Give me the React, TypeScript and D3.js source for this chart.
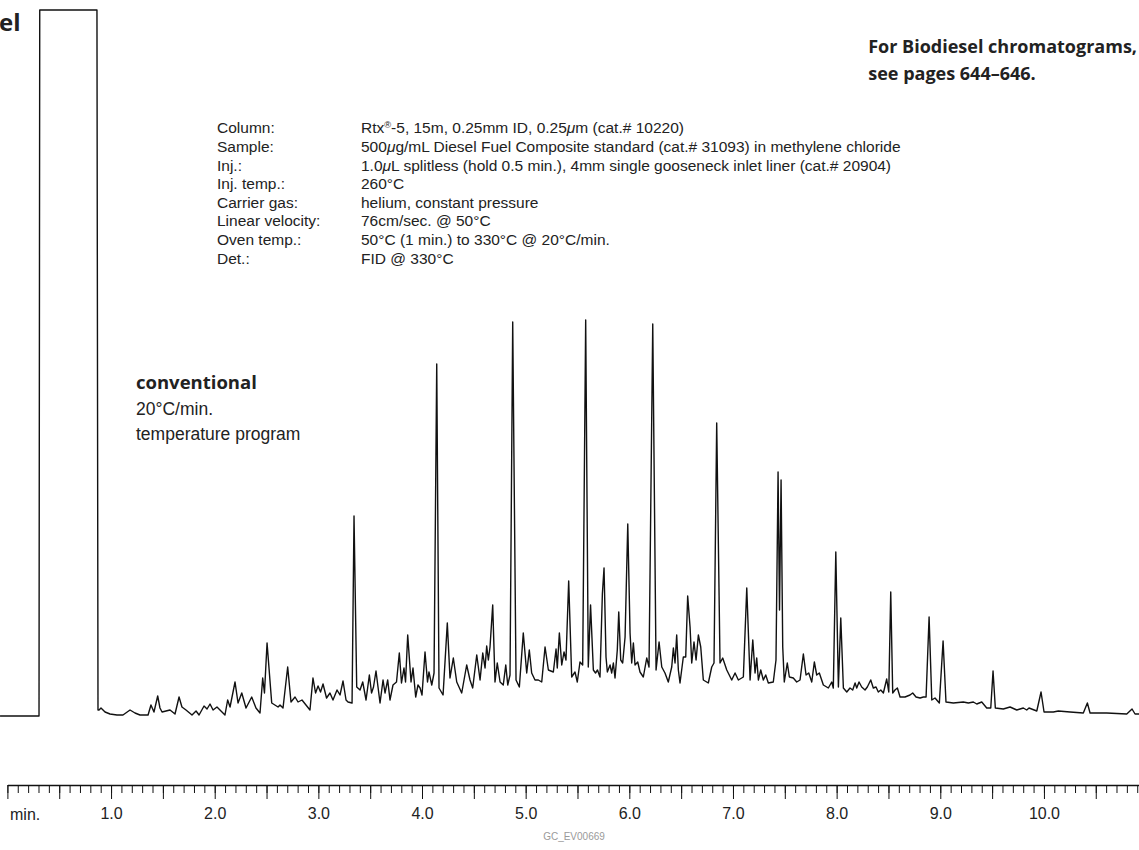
import React, { useEffect, useRef } from 'react';
import * as d3 from 'd3';

// retention time (min), detector response (arbitrary units, solvent peak is off scale)
const trace: [number, number][] = [
  [-0.071, 0], [0.305, 0], [0.312, 1200], [0.864, 1200], [0.874, 6], [0.884, 6],
  [0.903, 8], [0.942, 4], [0.99, 2], [1.057, 1], [1.115, 1], [1.183, 6], [1.231, 3],
  [1.279, 1], [1.357, 1], [1.385, 11], [1.414, 4], [1.45, 20], [1.472, 8], [1.492, 4],
  [1.53, 5], [1.569, 6], [1.617, 2], [1.656, 19], [1.684, 9], [1.723, 6], [1.781, 1],
  [1.82, 5], [1.849, 1], [1.897, 10], [1.926, 7], [1.955, 12], [1.984, 6], [2.022, 9],
  [2.099, 1], [2.125, 16], [2.148, 9], [2.196, 34], [2.225, 13], [2.261, 23], [2.302, 8],
  [2.357, 19], [2.398, 8], [2.437, 3], [2.463, 38], [2.48, 23], [2.505, 73], [2.55, 13],
  [2.611, 9], [2.63, 11], [2.659, 8], [2.704, 49], [2.736, 14], [2.775, 19], [2.804, 14],
  [2.842, 16], [2.919, 6], [2.948, 38], [2.973, 23], [2.997, 30], [3.021, 24], [3.045, 32],
  [3.079, 18], [3.112, 23], [3.141, 16], [3.18, 26], [3.209, 21], [3.238, 35], [3.267, 16],
  [3.286, 14], [3.325, 13], [3.344, 200], [3.37, 29], [3.402, 26], [3.428, 34], [3.46, 16],
  [3.492, 41], [3.513, 23], [3.532, 29], [3.556, 45], [3.595, 13], [3.624, 36], [3.643, 23],
  [3.669, 36], [3.691, 16], [3.72, 31], [3.754, 34], [3.781, 63], [3.802, 33], [3.826, 48],
  [3.841, 34], [3.862, 81], [3.894, 34], [3.913, 48], [3.939, 19], [3.961, 31], [3.981, 28],
  [4.0, 21], [4.029, 64], [4.053, 34], [4.067, 44], [4.094, 31], [4.116, 43], [4.142, 352],
  [4.164, 28], [4.203, 21], [4.244, 93], [4.27, 38], [4.302, 58], [4.335, 34], [4.383, 23],
  [4.431, 51], [4.463, 36], [4.489, 28], [4.528, 61], [4.56, 36], [4.586, 63], [4.608, 48],
  [4.624, 70], [4.64, 56], [4.656, 69], [4.682, 111], [4.704, 34], [4.726, 53], [4.753, 34],
  [4.784, 31], [4.808, 51], [4.827, 31], [4.849, 41], [4.875, 394], [4.907, 36], [4.939, 29],
  [4.977, 83], [5.01, 43], [5.035, 66], [5.058, 43], [5.09, 36], [5.122, 36], [5.155, 34],
  [5.187, 69], [5.219, 46], [5.267, 44], [5.293, 67], [5.305, 48], [5.325, 83], [5.348, 51],
  [5.37, 64], [5.389, 56], [5.415, 135], [5.444, 39], [5.476, 44], [5.498, 34], [5.524, 54],
  [5.55, 51], [5.579, 396], [5.604, 49], [5.626, 111], [5.653, 46], [5.674, 43], [5.693, 46],
  [5.717, 39], [5.74, 122], [5.756, 148], [5.775, 59], [5.788, 44], [5.814, 51], [5.83, 43],
  [5.846, 53], [5.862, 38], [5.884, 66], [5.898, 104], [5.917, 56], [5.936, 53], [5.959, 79],
  [5.985, 192], [6.007, 83], [6.023, 53], [6.039, 73], [6.055, 51], [6.081, 54], [6.103, 44],
  [6.135, 39], [6.168, 58], [6.19, 49], [6.226, 392], [6.258, 46], [6.287, 74], [6.313, 49],
  [6.344, 43], [6.376, 34], [6.409, 49], [6.425, 68], [6.441, 53], [6.457, 81], [6.473, 46],
  [6.489, 33], [6.521, 59], [6.544, 59], [6.563, 120], [6.586, 89], [6.602, 53], [6.624, 74],
  [6.644, 56], [6.666, 81], [6.689, 69], [6.714, 36], [6.762, 33], [6.795, 49], [6.817, 53],
  [6.843, 293], [6.875, 53], [6.901, 58], [6.94, 46], [6.988, 36], [7.02, 43], [7.052, 36],
  [7.1, 39], [7.133, 128], [7.165, 36], [7.191, 76], [7.213, 43], [7.229, 58], [7.245, 36],
  [7.268, 46], [7.293, 36], [7.316, 41], [7.341, 33], [7.389, 34], [7.415, 56], [7.435, 244],
  [7.449, 106], [7.464, 236], [7.48, 69], [7.495, 34], [7.524, 53], [7.544, 39], [7.582, 38],
  [7.615, 34], [7.647, 36], [7.679, 62], [7.705, 41], [7.731, 43], [7.76, 34], [7.785, 54],
  [7.808, 41], [7.833, 43], [7.872, 31], [7.92, 28], [7.953, 34], [7.968, 28], [7.992, 164],
  [8.017, 29], [8.04, 98], [8.065, 28], [8.098, 24], [8.129, 28], [8.155, 26], [8.178, 33],
  [8.194, 28], [8.216, 34], [8.242, 29], [8.274, 26], [8.296, 29], [8.329, 36], [8.354, 28],
  [8.38, 29], [8.402, 24], [8.426, 26], [8.451, 23], [8.483, 37], [8.503, 24], [8.522, 124],
  [8.541, 23], [8.563, 26], [8.586, 28], [8.612, 19], [8.66, 19], [8.708, 21], [8.734, 23],
  [8.766, 19], [8.805, 18], [8.837, 19], [8.863, 19], [8.892, 99], [8.918, 16], [8.949, 18],
  [8.991, 13], [9.027, 75], [9.055, 14], [9.126, 13], [9.222, 14], [9.271, 13], [9.319, 14],
  [9.352, 12], [9.4, 14], [9.448, 8], [9.487, 8], [9.509, 45], [9.531, 8], [9.608, 7],
  [9.673, 9], [9.738, 6], [9.801, 8], [9.834, 6], [9.856, 8], [9.931, 5], [9.972, 24],
  [10.001, 4], [10.091, 4], [10.139, 5], [10.252, 4], [10.38, 3], [10.419, 13], [10.445, 3],
  [10.606, 3], [10.799, 2], [10.85, 7], [10.879, 2], [10.918, 2],
];

const conditionLabels = [
  'Column:', 'Sample:', 'Inj.:', 'Inj. temp.:', 'Carrier gas:',
  'Linear velocity:', 'Oven temp.:', 'Det.:',
];
const conditionValues = [
  'Rtx®-5, 15m, 0.25mm ID, 0.25μm (cat.# 10220)',
  '500μg/mL Diesel Fuel Composite standard (cat.# 31093) in methylene chloride',
  '1.0μL splitless (hold 0.5 min.), 4mm single gooseneck inlet liner (cat.# 20904)',
  '260°C',
  'helium, constant pressure',
  '76cm/sec. @ 50°C',
  '50°C (1 min.) to 330°C @ 20°C/min.',
  'FID @ 330°C',
];
const timeLabels = [1, 2, 3, 4, 5, 6, 7, 8, 9, 10];
const noteLines = ['For Biodiesel chromatograms,', 'see pages 644–646.'];
const programLines = ['20°C/min.', 'temperature program'];

const WIDTH = 1139;
const HEIGHT = 850;
const plain = "'Liberation Sans', Arial, sans-serif";
const heavy = "'Open Sans', 'Noto Sans', sans-serif";

const App: React.FC = () => {
  const svgRef = useRef<SVGSVGElement>(null);

  useEffect(() => {
    if (!svgRef.current) return;
    const svg = d3.select(svgRef.current);
    svg.selectAll('*').remove();

    const x = d3.scaleLinear().domain([0, 10.92]).range([7.4, 1139.3]);
    const y = d3.scaleLinear().domain([0, 706]).range([716, 10]).clamp(true);

    // chromatogram trace
    const line = d3.line<[number, number]>()
      .x(d => x(d[0]))
      .y(d => y(d[1]));

    svg.append('path')
      .datum(trace)
      .attr('d', line)
      .attr('fill', 'none')
      .attr('stroke', '#111')
      .attr('stroke-width', 1.4)
      .attr('stroke-linejoin', 'round');

    // time axis: minor ticks every 0.1 min, major every 0.5 min
    const axisY = 785;
    const minor = d3.range(0, 110).map(i => i / 10);
    const major = d3.range(0, 22).map(i => i / 2);

    const gMinor = svg.append('g')
      .attr('transform', `translate(0,${axisY})`)
      .call(d3.axisBottom(x).tickValues(minor).tickSize(8).tickSizeOuter(0).tickFormat(() => ''));
    gMinor.select('.domain').attr('stroke', '#111').attr('stroke-width', 1.6);
    gMinor.selectAll('.tick line').attr('stroke', '#111');

    const gMajor = svg.append('g')
      .attr('transform', `translate(0,${axisY})`)
      .call(
        d3.axisBottom(x)
          .tickValues(major)
          .tickSize(14)
          .tickPadding(9)
          .tickFormat(d => (timeLabels.includes(+d) ? d3.format('.1f')(+d) : ''))
      );
    gMajor.select('.domain').remove();
    gMajor.selectAll('.tick line').attr('stroke', '#111');
    gMajor.selectAll('.tick text')
      .attr('font-family', plain)
      .attr('font-size', 16)
      .attr('fill', '#222');

    svg.append('text')
      .attr('x', 10)
      .attr('y', 820)
      .attr('font-family', plain)
      .attr('font-size', 16)
      .attr('fill', '#222')
      .text('min.');

    svg.append('text')
      .attr('x', 574)
      .attr('y', 840)
      .attr('text-anchor', 'middle')
      .attr('font-family', plain)
      .attr('font-size', 10)
      .attr('fill', '#9a9a9a')
      .text('GC_EV00669');

    // end of the page title, cut by the left edge in the source
    svg.append('text')
      .attr('x', -1)
      .attr('y', 31)
      .attr('font-family', heavy)
      .attr('font-weight', 700)
      .attr('font-size', 24)
      .attr('fill', '#222')
      .text('el');

    const first = svg.append('text')
      .attr('x', 1137)
      .attr('y', 53)
      .attr('text-anchor', 'end')
      .attr('font-family', heavy)
      .attr('font-weight', 700)
      .attr('font-size', 18)
      .attr('fill', '#222')
      .text(noteLines[0]);
    const noteX = (first.node() as SVGTextElement).getBBox().x;
    svg.append('text')
      .attr('x', noteX)
      .attr('y', 80)
      .attr('font-family', heavy)
      .attr('font-weight', 700)
      .attr('font-size', 18)
      .attr('fill', '#222')
      .text(noteLines[1]);

    // analytical conditions
    conditionLabels.forEach((label, i) => {
      const base = 133.3 + i * 18.6;
      svg.append('text')
        .attr('x', 217)
        .attr('y', base)
        .attr('font-family', plain)
        .attr('font-size', 15.5)
        .attr('fill', '#222')
        .text(label);

      const row = svg.append('text')
        .attr('x', 361)
        .attr('y', base)
        .attr('font-family', plain)
        .attr('font-size', 15.5)
        .attr('fill', '#222');
      let lift = 0;
      conditionValues[i].split(/(μ|®)/).forEach(part => {
        if (!part) return;
        const ts = row.append('tspan').text(part);
        if (part === 'μ') ts.attr('font-style', 'italic');
        if (part === '®') {
          ts.attr('font-size', '0.6em').attr('dy', -5);
          lift = 5;
        } else if (lift) {
          ts.attr('dy', lift);
          lift = 0;
        }
      });
    });

    svg.append('text')
      .attr('x', 136)
      .attr('y', 389)
      .attr('font-family', heavy)
      .attr('font-weight', 700)
      .attr('font-size', 18.5)
      .attr('fill', '#222')
      .text('conventional');

    programLines.forEach((t, i) => {
      svg.append('text')
        .attr('x', 136)
        .attr('y', 415 + i * 25)
        .attr('font-family', plain)
        .attr('font-size', 17.5)
        .attr('fill', '#222')
        .text(t);
    });
  }, []);

  return (
    <svg
      ref={svgRef}
      width={WIDTH}
      height={HEIGHT}
      style={{ position: 'absolute', left: 0, top: 0, background: '#fff' }}
    />
  );
};

export default App;
